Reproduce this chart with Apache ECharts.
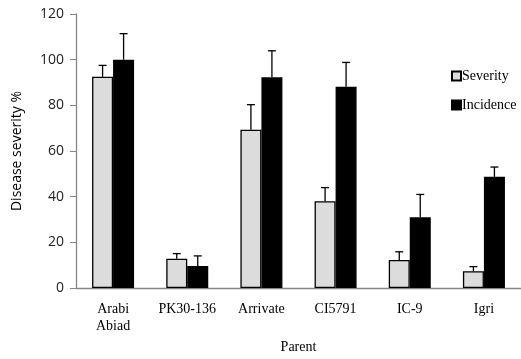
<!DOCTYPE html>
<html style="height: 100%">
<head>
	<meta charset="utf-8">
</head>
<body style="height: 100%; margin: 0; background: #fff">
<div id="container" style="width: 521px; height: 359px"></div>
<script type="text/javascript" src="https://cdn.jsdelivr.net/npm/echarts@6/dist/echarts.min.js"></script>
<script type="text/javascript">
    var parents = ['Arabi\nAbiad', 'PK30-136', 'Arrivate', 'CI5791', 'IC-9', 'Igri'];
    var severity = [92.5, 12.9, 69.3, 38, 12.3, 7.4];
    var severityErr = [5, 2.2, 11, 6, 3.6, 2];
    var incidence = [100, 9.7, 92.3, 88.1, 31, 48.7];
    var incidenceErr = [11.4, 4.4, 11.6, 10.7, 10, 4.3];

    var dom = document.getElementById("container");
    var myChart = echarts.init(dom);
    var axisGray = '#868686';
    var barW = 21;

    // upward-only error bars, shifted onto the left/right bar of each pair
    function errorBars(values, errs, shift) {
        return {
            type: 'custom',
            silent: true,
            z: 5,
            data: values.map(function (v, i) { return [i, v, v + errs[i]]; }),
            renderItem: function (params, api) {
                var lo = api.coord([api.value(0), api.value(1)]);
                var hi = api.coord([api.value(0), api.value(2)]);
                var x = lo[0] + shift;
                var style = { stroke: '#000', lineWidth: 1.3 };
                return {
                    type: 'group',
                    children: [
                        { type: 'line', shape: { x1: x, y1: lo[1], x2: x, y2: hi[1] }, style: style },
                        { type: 'line', shape: { x1: x - 4, y1: hi[1], x2: x + 4, y2: hi[1] }, style: style }
                    ]
                };
            }
        };
    }

    var option = {
        backgroundColor: '#fff',
        animation: false,
        grid: { left: 76, top: 14, width: 448, height: 276 },
        legend: {
            orient: 'vertical',
            left: 446,
            top: 64,
            itemGap: 15,
            itemWidth: 9,
            itemHeight: 9,
            icon: 'rect',
            textStyle: { fontFamily: 'Liberation Serif', fontSize: 14, color: '#000', padding: [0, 0, 0, -4] },
            data: ['Severity', 'Incidence']
        },
        xAxis: {
            type: 'category',
            data: parents,
            name: 'Parent',
            nameLocation: 'middle',
            nameGap: 50,
            nameTextStyle: { fontFamily: 'Liberation Serif', fontSize: 14, color: '#000' },
            axisLine: { lineStyle: { color: axisGray, width: 1.3 } },
            axisTick: { length: 6, lineStyle: { color: axisGray } },
            axisLabel: { fontFamily: 'Liberation Serif', fontSize: 14, color: '#000', margin: 13, lineHeight: 17, interval: 0 }
        },
        yAxis: {
            type: 'value',
            min: 0,
            max: 120,
            interval: 20,
            name: 'Disease severity %',
            nameLocation: 'middle',
            nameGap: 52,
            nameTextStyle: { fontFamily: 'Open Sans', fontSize: 14, color: '#000' },
            splitLine: { show: false },
            axisLine: { show: true, lineStyle: { color: axisGray, width: 1.3 } },
            axisTick: { show: true, length: 6, lineStyle: { color: axisGray } },
            axisLabel: { fontFamily: 'Open Sans', fontSize: 14, color: '#222', margin: 12 }
        },
        series: [
            {
                name: 'Severity',
                type: 'bar',
                data: severity,
                barWidth: barW,
                barGap: '0%',
                itemStyle: { color: '#dcdcdc', borderColor: '#000', borderWidth: 1.3 }
            },
            {
                name: 'Incidence',
                type: 'bar',
                data: incidence,
                barWidth: barW,
                barGap: '0%',
                itemStyle: { color: '#000', borderColor: '#000', borderWidth: 1.3 }
            },
            errorBars(severity, severityErr, -barW / 2),
            errorBars(incidence, incidenceErr, barW / 2)
        ]
    };

    myChart.setOption(option);
</script>
</body>
</html>
